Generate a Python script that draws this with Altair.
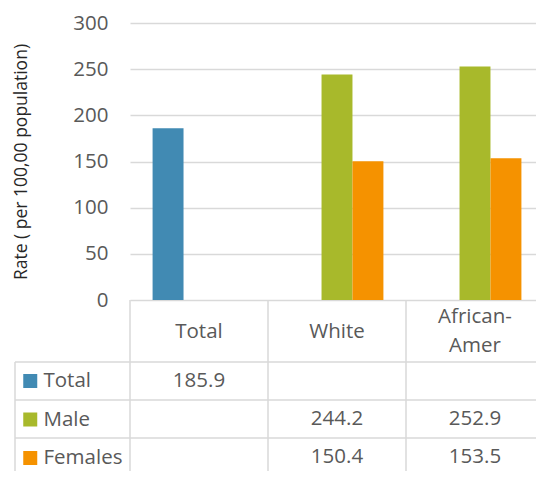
import altair as alt
import pandas as pd

# ---- data ----
categories = ["Total", "White", "African-Amer"]
series_names = ["Total", "Male", "Females"]
total_vals = [185.9, None, None]
male_vals = [None, 244.2, 252.9]
female_vals = [None, 150.4, 153.5]
y_ticks = [0, 50, 100, 150, 200, 250, 300]
y_title = "Rate ( per 100,00 population)"
colors = ["#418ab3", "#a8b92b", "#f59200"]

rows = []
for s, vals in zip(series_names, [total_vals, male_vals, female_vals]):
    for c, v in zip(categories, vals):
        if v is not None:
            rows.append({"category": c, "series": s, "value": v})
df = pd.DataFrame(rows)
cat_df = pd.DataFrame({"category": categories})
ser_df = pd.DataFrame({"series": series_names})
one_df = pd.DataFrame({"k": [0]})

FONT = "Open Sans"
FS = 20.5
GRID = "#d9d9d9"
TXT = "#595959"
PLOT_W, PLOT_H = 406, 277   # visible plot width (page clips the last column like the reference)
FULL_W = 414                # width of the three category columns
LW = 1.5
ROW_H = 38
ROW_TOP = 339
ROW_BOT = ROW_TOP + 3 * ROW_H

x_scale = alt.Scale(domain=categories, range=[0, FULL_W], paddingInner=0, paddingOuter=0)
row_scale = alt.Scale(domain=series_names, range=[ROW_TOP, ROW_BOT], paddingInner=0, paddingOuter=0)

x_axis = alt.Axis(
    title=None, orient="bottom", labelAngle=0, ticks=False, tickSize=0, domain=False,
    grid=False, labelPadding=31,
    labelBaseline={"condition": {"test": "indexof(datum.value, '-') > 0", "value": "line-bottom"}, "value": "middle"},
    labelFont=FONT, labelFontSize=FS, labelColor=TXT, labelLineHeight=29, labelFlush=False,
    labelExpr="indexof(datum.label, '-') > 0 ? [slice(datum.label, 0, indexof(datum.label, '-') + 1), slice(datum.label, indexof(datum.label, '-') + 1)] : datum.label",
)

bars = alt.Chart(df).mark_bar().encode(
    x=alt.X("category:N", scale=x_scale, sort=categories, axis=x_axis),
    xOffset=alt.XOffset("series:N", scale=alt.Scale(domain=series_names, paddingInner=0, paddingOuter=0.73)),
    y=alt.Y(
        "value:Q",
        scale=alt.Scale(domain=[0, 300], nice=False),
        axis=alt.Axis(
            values=y_ticks, title=y_title, grid=True, gridColor=GRID, gridWidth=LW,
            domain=False, ticks=False, tickSize=0, labelPadding=22,
            labelFont=FONT, labelFontSize=FS, labelColor=TXT,
            titleFont=FONT, titleFontSize=17.5, titleFontWeight="normal",
            titleColor="#262626", titleX=-104, titleY=PLOT_H / 2,
            titleBaseline="alphabetic", titleAngle=270, titleAlign="center",
        ),
    ),
    color=alt.Color(
        "series:N",
        scale=alt.Scale(domain=series_names, range=colors),
        legend=alt.Legend(
            title=None, orient="none", legendX=-110, legendY=ROW_TOP + ROW_H / 2 - FS / 2,
            symbolType="square", symbolSize=196, symbolStrokeWidth=0,
            labelFont=FONT, labelFontSize=FS, labelColor=TXT, labelOffset=3,
            rowPadding=ROW_H - FS, padding=0, direction="vertical",
        ),
    ),
)

hlines = alt.Chart(ser_df).mark_rule(color=GRID, strokeWidth=LW).encode(
    y=alt.Y("series:N", scale=row_scale, bandPosition=0, axis=None),
    x=alt.value(-115),
    x2=alt.value(FULL_W),
)

vlines = alt.Chart(cat_df).mark_rule(color=GRID, strokeWidth=LW).encode(
    x=alt.X("category:N", scale=x_scale, sort=categories, bandPosition=0, axis=x_axis),
    y=alt.value(PLOT_H),
    y2=alt.value(PLOT_H + 200),
)

left_line = alt.Chart(one_df).mark_rule(color=GRID, strokeWidth=LW).encode(
    x=alt.value(-115),
    y=alt.value(ROW_TOP),
    y2=alt.value(PLOT_H + 200),
)

vals = alt.Chart(df).mark_text(font=FONT, fontSize=FS, color=TXT, baseline="middle", align="center").encode(
    x=alt.X("category:N", scale=x_scale, sort=categories, axis=x_axis),
    y=alt.Y("series:N", scale=row_scale, axis=None),
    text=alt.Text("value:Q", format=".1f"),
)

chart = (
    alt.layer(bars, hlines, vlines, left_line, vals)
    .resolve_scale(y="independent")
    .properties(
        width=PLOT_W,
        height=PLOT_H,
        padding={"left": 122, "top": 15, "right": 0, "bottom": 171},
        autosize=alt.AutoSizeParams(type="none"),
        background="white",
    )
    .configure_view(stroke=None)
)

chart.save("out.html", embed_options={"renderer": "svg", "actions": False})
